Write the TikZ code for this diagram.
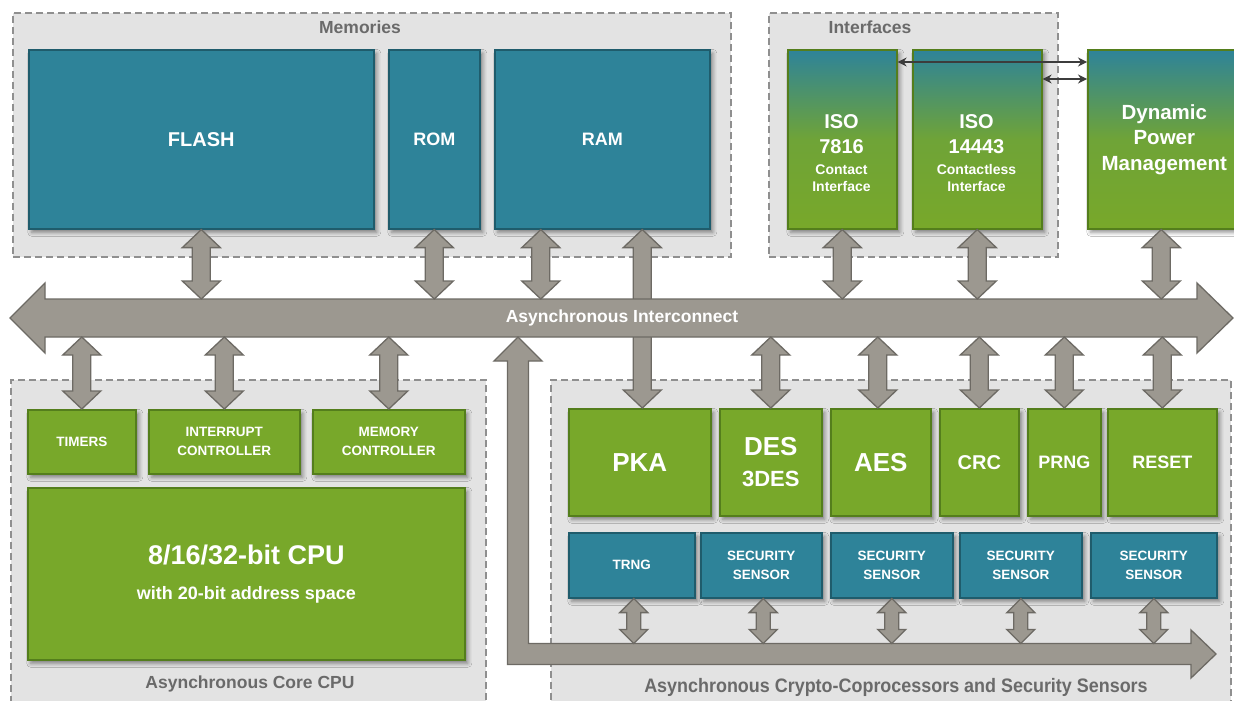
\documentclass[tikz,border=0pt]{standalone}
\usepackage{fontspec}
\setmainfont{Liberation Sans}
\usetikzlibrary{calc,arrows.meta,shadows.blur}

\definecolor{tealc}{HTML}{2E8399}
\definecolor{tealb}{HTML}{1F5C6C}
\definecolor{greenc}{HTML}{78A82A}
\definecolor{greenb}{HTML}{547E1C}
\definecolor{grpfill}{HTML}{E3E3E3}
\definecolor{grpline}{HTML}{8F8F8F}
\definecolor{grptext}{HTML}{6A6A6A}
\definecolor{arrfill}{HTML}{9C9890}
\definecolor{arrline}{HTML}{6D6A64}
\definecolor{thinarr}{HTML}{3C3C3C}

\newcommand\fs[2]{\fontsize{#1}{#2}\selectfont}

% vertical fat double arrow: top point, bottom point, shaft half width, head half width, head length
\newcommand\fatv[5]{%
  \draw[fatarrow] let \p1=#1, \p2=#2 in
    (\x1,\y1) -- (\x1+#4pt,\y1-#5pt) -- (\x1+#3pt,\y1-#5pt) -- (\x1+#3pt,\y2+#5pt)
    -- (\x1+#4pt,\y2+#5pt) -- (\x1,\y2) -- (\x1-#4pt,\y2+#5pt) -- (\x1-#3pt,\y2+#5pt)
    -- (\x1-#3pt,\y1-#5pt) -- (\x1-#4pt,\y1-#5pt) -- cycle;}

\tikzset{
  grp/.style={draw=grpline, fill=grpfill, dash pattern=on 7pt off 4pt, line width=1.6pt,
    anchor=north west, inner sep=0},
  grplbl/.style={text=grptext, font=\bfseries\fs{17.5}{21}, inner sep=0},
  shad/.style={blur shadow={shadow xshift=3pt, shadow yshift=-3.5pt, shadow blur radius=4pt, shadow opacity=45}},
  blk/.style={shad, anchor=north west, inner sep=0, line width=1.6pt, text=white,
    font=\bfseries, align=center},
  tealblk/.style={blk, draw=tealb, fill=tealc},
  greenblk/.style={blk, draw=greenb, fill=greenc},
  gradblk/.style={blk, draw=greenb, top color=tealc, bottom color=greenc, middle color=greenc!88!tealc},
  bx/.style 2 args={minimum width=#1pt, minimum height=#2pt},
  fatarrow/.style={draw=arrline, fill=arrfill, line width=1.3pt, line join=miter},
  txt/.style={text=white, inner sep=0, align=center},
  thin/.style={draw=thinarr, line width=1.6pt, {Stealth[length=9pt,width=9pt]}-{Stealth[length=9pt,width=9pt]}}
}

\begin{document}
\begin{tikzpicture}[x=1pt, y=-1pt]
\useasboundingbox (0,0) rectangle (1234,701);
\fill[white] (0,0) rectangle (1234,701);

% ---- groups
\node[grp, bx={718}{244}] (memgrp) at (12,12) {};
\node[grp, bx={289}{244}] (ifgrp) at (768,12) {};
\node[grp, bx={475}{340}] (coregrp) at (10,379) {};
\node[grp, bx={680}{340}] (cryptogrp) at (550,379) {};

\node[grplbl] (memlbl) at (360,27) {Memories};
\node[grplbl] (iflbl) at (870,27) {Interfaces};
\node[grplbl] (corelbl) at (250,684) {Asynchronous Core CPU};
\node[grplbl, font=\bfseries\fs{19.5}{22}, xscale=0.92] (cryptolbl) at (896,687) {Asynchronous Crypto-Coprocessors and Security Sensors};

% ---- memories
\node[tealblk, bx={345}{179}, font=\bfseries\fs{20}{24}] (flash) at (28,49) {FLASH};
\node[tealblk, bx={91}{179}, font=\bfseries\fs{18}{22}] (rom) at (388,49) {ROM};
\node[tealblk, bx={215}{179}, font=\bfseries\fs{18}{22}] (ram) at (494,49) {RAM};

% ---- interfaces and power
\node[gradblk, bx={109}{179}] (iso1) at (787,49) {};
\node[gradblk, bx={129}{179}] (iso2) at (912,49) {};
\node[gradblk, bx={153}{179}, font=\bfseries\fs{20.5}{25.5}] (dpm) at (1087,49) {Dynamic\\Power\\Management};
\node[txt, font=\bfseries\fs{20}{25}] (iso1t) at (841.5,153) {ISO\\7816\\[-4pt]\fs{14}{17}Contact\\[-8pt]\fs{14}{17}Interface};
\node[txt, font=\bfseries\fs{20}{25}] (iso2t) at (976.5,153) {ISO\\14443\\[-4pt]\fs{14}{17}Contactless\\[-8pt]\fs{14}{17}Interface};

% ---- core CPU
\node[greenblk, bx={108}{64}, font=\bfseries\fs{13.5}{19}] (timers) at (27,409) {TIMERS};
\node[greenblk, bx={151}{64}, font=\bfseries\fs{13.5}{19}] (intr) at (148,409) {INTERRUPT\\CONTROLLER};
\node[greenblk, bx={152}{64}, font=\bfseries\fs{13.5}{19}] (memc) at (312,409) {MEMORY\\CONTROLLER};
\node[greenblk, bx={437}{172}, font=\bfseries\fs{18}{35}] (cpu) at (27,487) {\fs{27}{35}8/16/32-bit CPU\\with 20-bit address space};

% ---- crypto coprocessors
\node[greenblk, bx={142}{107}, font=\bfseries\fs{26}{30}] (pka) at (568,408) {PKA};
\node[greenblk, bx={102}{107}, font=\bfseries\fs{22}{31}] (des) at (719,408) {\fs{26}{31}DES\\3DES};
\node[greenblk, bx={100}{107}, font=\bfseries\fs{26}{30}] (aes) at (830,408) {AES};
\node[greenblk, bx={79}{107}, font=\bfseries\fs{20}{24}] (crc) at (939,408) {CRC};
\node[greenblk, bx={73}{107}, font=\bfseries\fs{18}{22}] (prng) at (1027,408) {PRNG};
\node[greenblk, bx={109}{107}, font=\bfseries\fs{18}{22}] (reset) at (1107,408) {RESET};

% ---- sensors
\node[tealblk, bx={126}{65}, font=\bfseries\fs{13.5}{19}] (trng) at (568,532) {TRNG};
\node[tealblk, bx={121}{65}, font=\bfseries\fs{13.5}{19}] (ss1) at (700,532) {SECURITY\\SENSOR};
\node[tealblk, bx={122}{65}, font=\bfseries\fs{13.5}{19}] (ss2) at (830,532) {SECURITY\\SENSOR};
\node[tealblk, bx={122}{65}, font=\bfseries\fs{13.5}{19}] (ss3) at (959,532) {SECURITY\\SENSOR};
\node[tealblk, bx={126}{65}, font=\bfseries\fs{13.5}{19}] (ss4) at (1090,532) {SECURITY\\SENSOR};

% RAM straight down to PKA, passing under the bus
\fatv{([xshift=40pt]ram.south)}{([xshift=40pt]ram.south |- pka.north)}{9}{19}{18}

% ---- interconnect bus
\coordinate (bustop) at (0,299);
\coordinate (busbot) at (0,337);
\draw[fatarrow] (10,318) -- (45,283) -- (45,299) -- (1197,299) -- (1197,283) -- (1233,318)
  -- (1197,353) -- (1197,337) -- (45,337) -- (45,353) -- cycle;
\node[txt, font=\bfseries\fs{17.5}{20}] (buslbl) at (622,318) {Asynchronous Interconnect};

% ---- sensor bus (L-shaped)
\coordinate (lshaft) at (0,643.5);
\draw[fatarrow] (518,337) -- (542,361) -- (528.5,361) -- (528.5,643.5) -- (1191,643.5)
  -- (1191,630) -- (1216,654) -- (1191,678) -- (1191,664.5) -- (507.5,664.5)
  -- (507.5,361) -- (494,361) -- cycle;

% ---- links to the bus
\fatv{(flash.south)}{(flash.south |- bustop)}{9}{19}{18}
\fatv{(rom.south)}{(rom.south |- bustop)}{9}{19}{18}
\fatv{([xshift=-61.5pt]ram.south)}{([xshift=-61.5pt]ram.south |- bustop)}{9}{19}{18}
\fatv{(iso1.south)}{(iso1.south |- bustop)}{9}{19}{18}
\fatv{(iso2.south)}{(iso2.south |- bustop)}{9}{19}{18}
\fatv{([xshift=-3pt]dpm.south)}{([xshift=-3pt]dpm.south |- bustop)}{9}{19}{18}

\fatv{(timers.north |- busbot)}{(timers.north)}{9}{19}{18}
\fatv{(intr.north |- busbot)}{(intr.north)}{9}{19}{18}
\fatv{(memc.north |- busbot)}{(memc.north)}{9}{19}{18}
\fatv{(des.north |- busbot)}{(des.north)}{9}{19}{18}
\fatv{([xshift=-3pt]aes.north |- busbot)}{([xshift=-3pt]aes.north)}{9}{19}{18}
\fatv{(crc.north |- busbot)}{(crc.north)}{9}{19}{18}
\fatv{(prng.north |- busbot)}{(prng.north)}{9}{19}{18}
\fatv{(reset.north |- busbot)}{(reset.north)}{9}{19}{18}

% sensors to the sensor bus
\fatv{([xshift=2pt]trng.south)}{([xshift=2pt]trng.south |- lshaft)}{7}{14}{14}
\fatv{([xshift=2pt]ss1.south)}{([xshift=2pt]ss1.south |- lshaft)}{7}{14}{14}
\fatv{(ss2.south)}{(ss2.south |- lshaft)}{7}{14}{14}
\fatv{(ss3.south)}{(ss3.south |- lshaft)}{7}{14}{14}
\fatv{(ss4.south)}{(ss4.south |- lshaft)}{7}{14}{14}

% ---- interface to power management links
\draw[thin] ([yshift=-13pt]iso1.north east) -- ([yshift=-13pt]iso1.north east -| dpm.west);
\draw[thin] ([yshift=-30pt]iso2.north east) -- ([yshift=-30pt]iso2.north east -| dpm.west);
\end{tikzpicture}
\end{document}
